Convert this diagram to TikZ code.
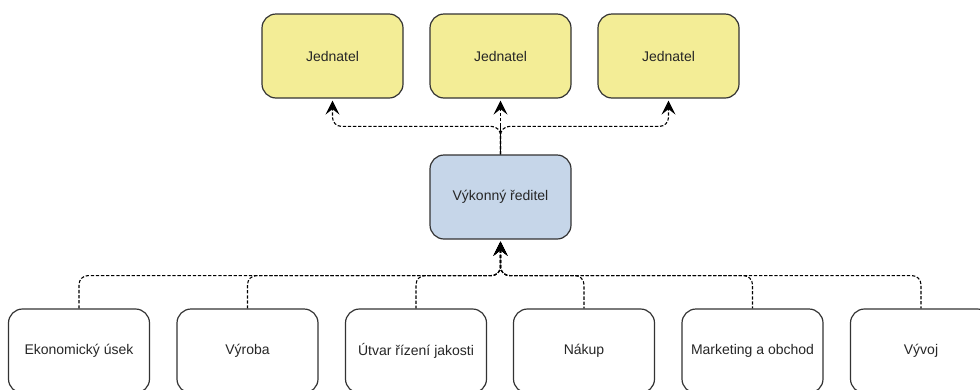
\documentclass[tikz,border=0pt]{standalone}
\usepackage{fontspec}
\setmainfont{Liberation Sans}
\usetikzlibrary{arrows.meta}
\definecolor{boxline}{RGB}{51,51,51}
\definecolor{jfill}{RGB}{243,237,150}
\definecolor{dfill}{RGB}{198,214,233}
\tikzset{
  orgbox/.style={draw=boxline, line width=1.2pt, rounded corners=14pt,
    minimum width=141pt, minimum height=84pt, inner sep=0pt,
    font=\fontsize{14}{16}\selectfont, text=black!85},
  jbox/.style={orgbox, fill=jfill},
  dbox/.style={orgbox, fill=dfill},
  ubox/.style={orgbox, fill=white},
  conn/.style={draw=black, line width=1.1pt, dash pattern=on 3.3pt off 1.8pt,
    rounded corners=9pt},
  orgtip/.tip={Stealth[length=14pt,width=14pt,inset=5.5pt]},
  tipend/.style={-orgtip, shorten >=2pt},
  tipstart/.style={orgtip-, shorten <=2pt},
}
\begin{document}
\begin{tikzpicture}[x=1pt,y=-1pt]
\useasboundingbox (0,0) rectangle (980,389);
% owners
\node[jbox] (j1) at (332.5,56) {Jednatel};
\node[jbox] (j2) at (500.5,56) {Jednatel};
\node[jbox] (j3) at (668.5,56) {Jednatel};
% executive director
\node[dbox] (ceo) at (500.5,197) {Výkonný ředitel};
% departments
\node[ubox] (u1) at (79,351) {Ekonomický úsek};
\node[ubox] (u2) at (247.5,351) {Výroba};
\node[ubox] (u3) at (416,351) {Útvar řízení jakosti};
\node[ubox] (u4) at (584,351) {Nákup};
\node[ubox] (u5) at (752.5,351) {Marketing a obchod};
\node[ubox] (u6) at (921,351) {Vývoj};
% junction points of the two buses
\coordinate (tbus) at ([yshift=28pt]ceo.north);
\coordinate (bbus) at ([yshift=-36pt]ceo.south);
% director to owners
\draw[line width=1.1pt] (ceo.north) -- (tbus);
\draw[conn,tipend] (tbus) -- (j2.south);
\draw[conn,tipend] (ceo.north) -- (tbus) -| (j1.south);
\draw[conn,tipend] (ceo.north) -- (tbus) -| (j3.south);
% departments to director (drawn from the director so the shared stem lines up)
\foreach \u in {u1,u2,u3,u4,u5,u6}
  \draw[conn,tipstart] (ceo.south) -- (bbus) -| (\u.north);
\end{tikzpicture}
\end{document}
